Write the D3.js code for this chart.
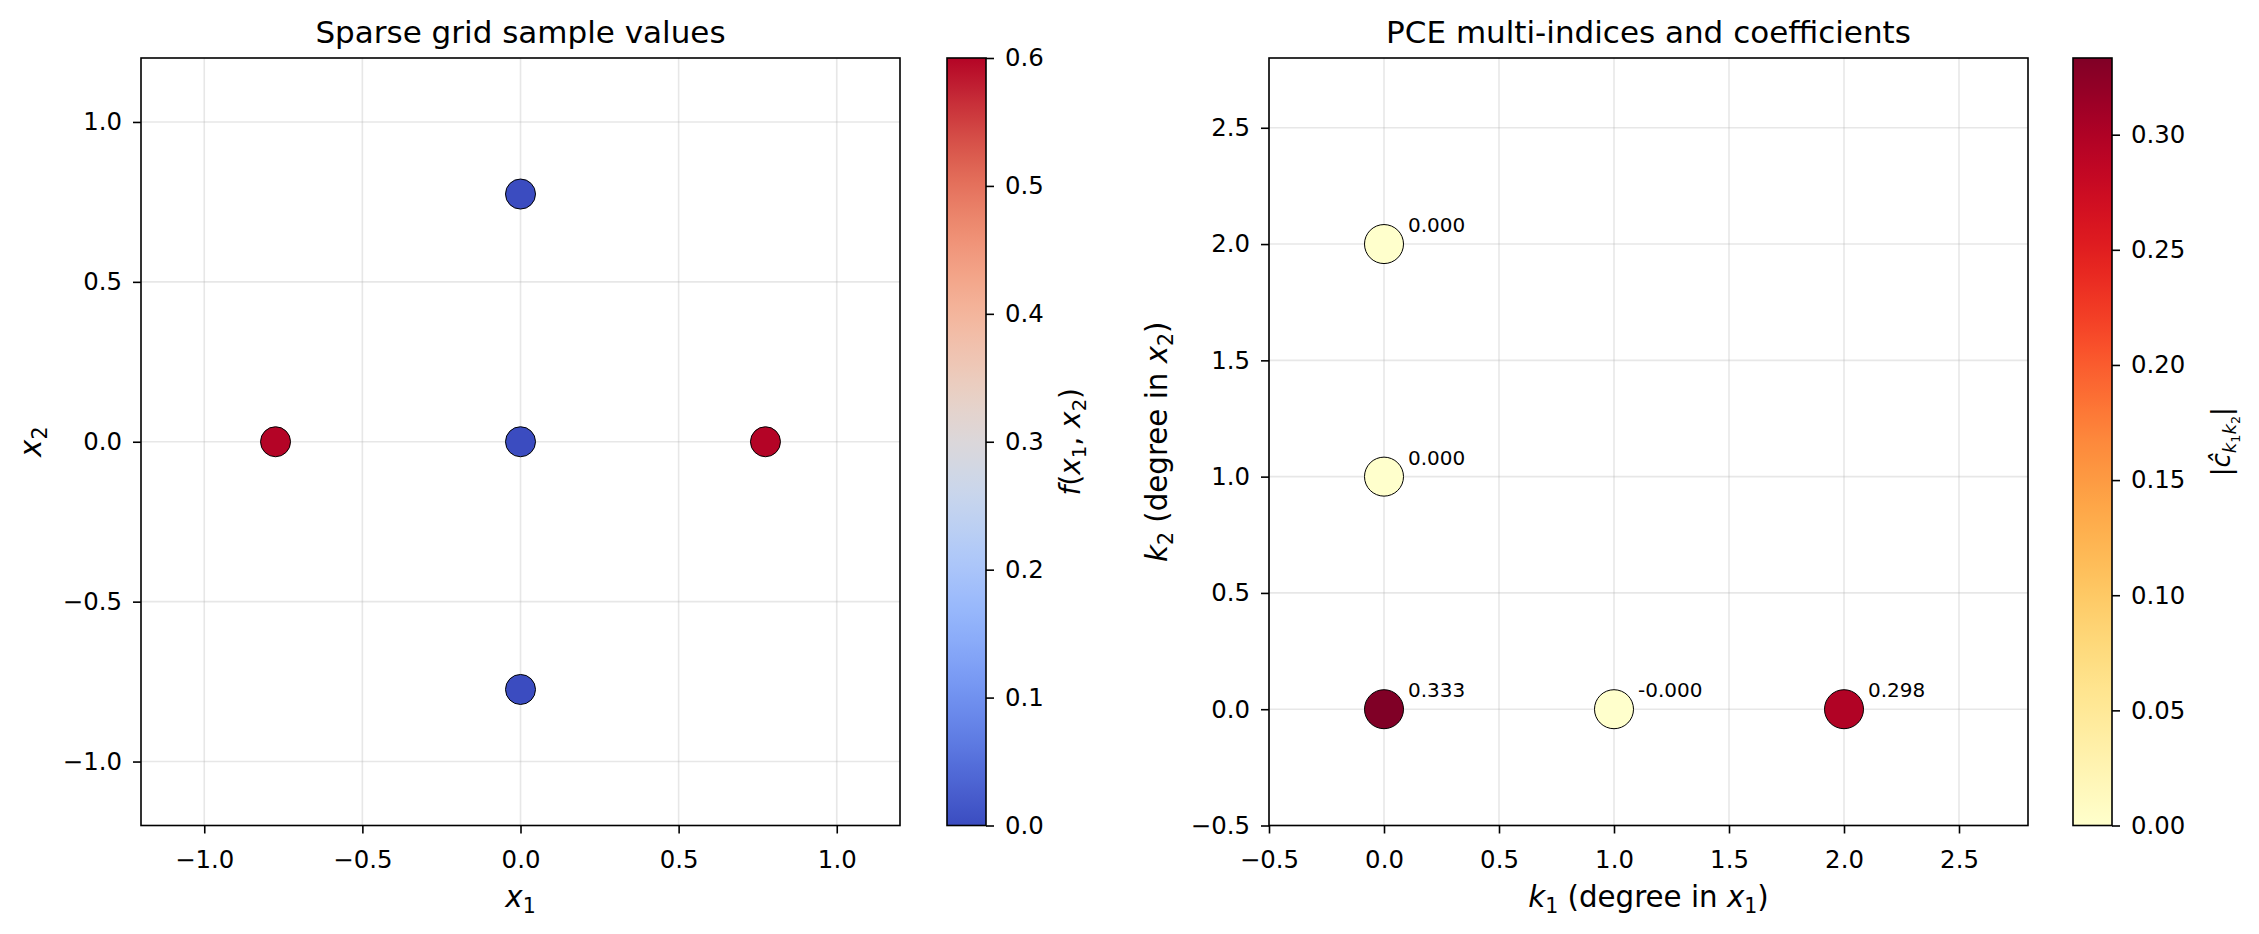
<!DOCTYPE html>
<html>
<head>
<meta charset="utf-8">
<script src="https://cdn.jsdelivr.net/npm/d3@7"></script>
<style>
  body { margin: 0; background: #fff; }
  svg { font-family: "DejaVu Sans", sans-serif; }
</style>
</head>
<body>
<svg id="chart" width="2259" height="934"></svg>
<script>
// sparse grid nodes and sampled values
const sampleX1 = [-0.7746, 0, 0, 0, 0.7746];
const sampleX2 = [0, -0.7746, 0, 0.7746, 0];
const sampleF = [0.6, 0, 0, 0, 0.6];

// PCE multi-indices and coefficients
const k1 = [0, 1, 2, 0, 0];
const k2 = [0, 0, 0, 1, 2];
const coef = [0.3333, -1e-17, 0.2981, 0, 0];

const ticksLeft = [-1.0, -0.5, 0.0, 0.5, 1.0];
const ticksRight = [-0.5, 0.0, 0.5, 1.0, 1.5, 2.0, 2.5];
const ticksCb1 = [0, 0.1, 0.2, 0.3, 0.4, 0.5, 0.6];
const ticksCb2 = [0, 0.05, 0.1, 0.15, 0.2, 0.25, 0.3];

const svg = d3.select("#chart");
const yTop = 58, yBot = 825.5;
const fs = 24.4;    // tick labels
const lfs = 29.3;   // axis labels

const coolwarm = d3.interpolateRgbBasis([
  "#3b4cc0", "#6282ea", "#8db0fe", "#b8d0f9", "#dddddd",
  "#f5c4ad", "#f49a7b", "#de604d", "#b40426"
]);

const minus = (s) => s.replace("-", "\u2212");

// mathtext-ish label: parts = [text, style]; styles n, i, s, si, ss
function mathText(sel, parts, size0) {
  let cur = 0;
  const off = { n: 0, i: 0, s: 0.22, si: 0.22, ss: 0.38 };
  const size = { n: 1, i: 1, s: 0.7, si: 0.7, ss: 0.49 };
  parts.forEach(([t, st]) => {
    const target = off[st] * size0;
    sel.append("tspan")
      .attr("dy", target - cur)
      .attr("font-size", size[st] * size0)
      .attr("font-style", st === "i" || st === "si" ? "italic" : "normal")
      .text(t);
    cur = target;
  });
}

function panel(opts) {
  const x = d3.scaleLinear().domain(opts.domain).range([opts.x0, opts.x1]);
  const y = d3.scaleLinear().domain(opts.domain).range([yBot, yTop]);
  const g = svg.append("g");

  // grid
  g.append("g").selectAll("line").data(opts.ticks).join("line")
    .attr("x1", (d) => x(d)).attr("x2", (d) => x(d))
    .attr("y1", yTop).attr("y2", yBot)
    .attr("stroke", "#b0b0b0").attr("stroke-opacity", 0.3).attr("stroke-width", 1.6);
  g.append("g").selectAll("line").data(opts.ticks).join("line")
    .attr("y1", (d) => y(d)).attr("y2", (d) => y(d))
    .attr("x1", opts.x0).attr("x2", opts.x1)
    .attr("stroke", "#b0b0b0").attr("stroke-opacity", 0.3).attr("stroke-width", 1.6);

  // axes
  const ax = g.append("g").attr("transform", `translate(0,${yBot})`)
    .call(d3.axisBottom(x).tickValues(opts.ticks).tickFormat((d) => minus(d3.format(".1f")(d)))
      .tickSize(8).tickSizeOuter(0));
  ax.selectAll("text").attr("dy", null).attr("y", 42);
  const ay = g.append("g").attr("transform", `translate(${opts.x0},0)`)
    .call(d3.axisLeft(y).tickValues(opts.ticks).tickFormat((d) => minus(d3.format(".1f")(d)))
      .tickSize(8).tickPadding(11).tickSizeOuter(0));
  [ax, ay].forEach((a) => {
    a.select(".domain").remove();
    a.selectAll("line").attr("stroke", "#000").attr("stroke-width", 1.6);
    a.selectAll("text").attr("font-size", fs).attr("fill", "#000")
      .attr("font-family", "DejaVu Sans");
  });

  g.append("rect")
    .attr("x", opts.x0).attr("y", yTop)
    .attr("width", opts.x1 - opts.x0).attr("height", yBot - yTop)
    .attr("fill", "none").attr("stroke", "#000").attr("stroke-width", 1.6);

  g.append("text")
    .attr("x", (opts.x0 + opts.x1) / 2).attr("y", 43)
    .attr("text-anchor", "middle").attr("font-size", 31)
    .text(opts.title);

  const xl = g.append("text")
    .attr("x", (opts.x0 + opts.x1) / 2).attr("y", 907)
    .attr("text-anchor", "middle").attr("font-size", lfs);
  mathText(xl, opts.xlabel, lfs);

  const yl = g.append("text")
    .attr("transform", `translate(${opts.ylabelX},${(yTop + yBot) / 2}) rotate(-90)`)
    .attr("text-anchor", "middle").attr("font-size", lfs);
  mathText(yl, opts.ylabel, lfs);

  return { g, x, y };
}

function colorbar(opts) {
  const id = opts.id;
  const grad = svg.append("defs").append("linearGradient")
    .attr("id", id).attr("x1", 0).attr("y1", 1).attr("x2", 0).attr("y2", 0);
  d3.range(0, 1.0001, 0.02).forEach((t) => {
    grad.append("stop").attr("offset", t).attr("stop-color", opts.interp(t));
  });
  const s = d3.scaleLinear().domain([0, opts.max]).range([yBot, yTop]);
  svg.append("rect")
    .attr("x", opts.x0).attr("y", yTop)
    .attr("width", opts.x1 - opts.x0).attr("height", yBot - yTop)
    .attr("fill", `url(#${id})`).attr("stroke", "#000").attr("stroke-width", 1.6);
  const a = svg.append("g").attr("transform", `translate(${opts.x1},0)`)
    .call(d3.axisRight(s).tickValues(opts.ticks).tickFormat(d3.format(opts.fmt))
      .tickSize(8).tickPadding(11).tickSizeOuter(0));
  a.select(".domain").remove();
  a.selectAll("line").attr("stroke", "#000").attr("stroke-width", 1.6);
  a.selectAll("text").attr("font-size", fs).attr("fill", "#000")
    .attr("font-family", "DejaVu Sans");
  const lab = svg.append("text")
    .attr("transform", `translate(${opts.labelX},${(yTop + yBot) / 2}) rotate(-90)`)
    .attr("text-anchor", "middle").attr("font-size", opts.labelSize);
  mathText(lab, opts.label, opts.labelSize);
}

// left panel
const left = panel({
  domain: [-1.2, 1.2], ticks: ticksLeft, x0: 141, x1: 900,
  title: "Sparse grid sample values",
  xlabel: [["x", "i"], ["1", "s"]],
  ylabel: [["x", "i"], ["2", "s"]],
  ylabelX: 41
});
const cScale1 = (v) => coolwarm(v / 0.6);
left.g.append("g").selectAll("circle")
  .data(sampleF.map((f, i) => ({ x: sampleX1[i], y: sampleX2[i], f })))
  .join("circle")
  .attr("cx", (d) => left.x(d.x)).attr("cy", (d) => left.y(d.y))
  .attr("r", 15)
  .attr("fill", (d) => cScale1(d.f))
  .attr("stroke", "#000").attr("stroke-width", 1);

colorbar({
  id: "cb1", interp: coolwarm, max: 0.6, ticks: ticksCb1, fmt: ".1f",
  x0: 947, x1: 986, labelX: 1080, labelSize: 28,
  label: [["f", "i"], ["(", "n"], ["x", "i"], ["1", "s"], [", ", "n"], ["x", "i"], ["2", "s"], [")", "n"]]
});

// right panel
const right = panel({
  domain: [-0.5, 2.8], ticks: ticksRight, x0: 1269, x1: 2028,
  title: "PCE multi-indices and coefficients",
  xlabel: [["k", "i"], ["1", "s"], [" (degree in ", "n"], ["x", "i"], ["1", "s"], [")", "n"]],
  ylabel: [["k", "i"], ["2", "s"], [" (degree in ", "n"], ["x", "i"], ["2", "s"], [")", "n"]],
  ylabelX: 1167
});
const cmax = d3.max(coef, (c) => Math.abs(c));
const pts = coef.map((c, i) => ({ x: k1[i], y: k2[i], c }));
right.g.append("g").selectAll("circle").data(pts).join("circle")
  .attr("cx", (d) => right.x(d.x)).attr("cy", (d) => right.y(d.y))
  .attr("r", 19.5)
  .attr("fill", (d) => d3.interpolateYlOrRd(Math.abs(d.c) / cmax))
  .attr("stroke", "#000").attr("stroke-width", 1);
right.g.append("g").selectAll("text").data(pts).join("text")
  .attr("x", (d) => right.x(d.x) + 24).attr("y", (d) => right.y(d.y) - 12)
  .attr("font-size", 20)
  .text((d) => d.c.toFixed(3));

colorbar({
  id: "cb2", interp: d3.interpolateYlOrRd, max: cmax, ticks: ticksCb2, fmt: ".2f",
  x0: 2073, x1: 2112, labelX: 2230, labelSize: 26,
  label: [["|", "n"], ["\u0109", "i"], ["k", "si"], ["1", "ss"], ["k", "si"], ["2", "ss"], ["|", "n"]]
});
</script>
</body>
</html>
